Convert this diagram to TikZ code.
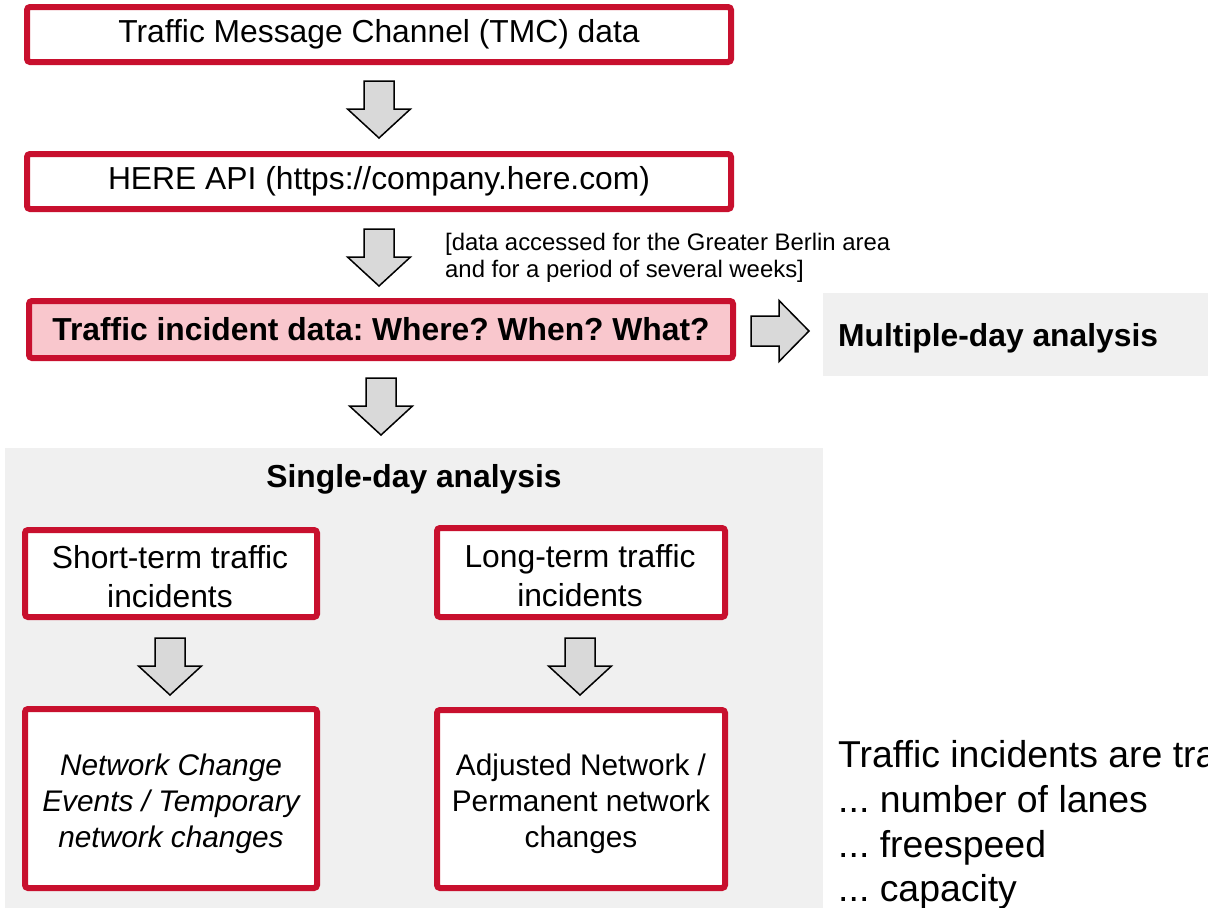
\documentclass[tikz,border=0pt]{standalone}
\usepackage{fontspec}
\setmainfont{Liberation Sans}
\usetikzlibrary{calc}
\definecolor{boxred}{RGB}{200,16,46}
\definecolor{boxpink}{RGB}{249,199,205}
\definecolor{panelgray}{RGB}{240,240,240}
\definecolor{arrowgray}{RGB}{217,217,217}
\frenchspacing

\begin{document}
\begin{tikzpicture}[x=1pt,y=-1pt,
  box/.style={draw=boxred, line width=6pt, rounded corners=3pt, fill=white,
    inner sep=4pt, align=center, text=black},
  bigtext/.style={font=\fontsize{31.8}{39}\selectfont},
  boldtext/.style={font=\fontsize{31.8}{39}\selectfont\bfseries},
  smalltext/.style={font=\fontsize{29.8}{36}\selectfont},
  notetext/.style={font=\fontsize{23.9}{27.5}\selectfont},
  sidetext/.style={font=\fontsize{37.4}{44}\selectfont},
  plain/.style={inner sep=0pt, text=black},
  boxtext/.style={inner sep=0pt, text=black, align=center},
  blockarrow/.style={draw=black, line width=1.5pt, fill=arrowgray, line join=miter},
  pics/downarrow/.style={code={
    \path[blockarrow] (-15,0) -- (15,0) -- (15,28) -- (31.5,28) -- (0,57)
      -- (-31.5,28) -- (-15,28) -- cycle;}},
  pics/rightarrow/.style={code={
    \path[blockarrow] (0,-15) -- (28,-15) -- (28,-30.5) -- (58,0)
      -- (28,30.5) -- (28,15) -- (0,15) -- cycle;}},
]
\useasboundingbox (0,0) rectangle (1208,908);
\clip (0,0) rectangle (1208,908);

% background panels
\fill[panelgray] (5,448) rectangle (823,912);
\fill[panelgray] (823,293) rectangle (1212,376);

% main chain
\node[box,bigtext,minimum width=704pt,minimum height=55pt] (tmc) at (379,34.5)
  {Traffic Message Channel (TMC) data};
\node[box,bigtext,minimum width=704pt,minimum height=55pt] (here) at (379,181.5)
  {HERE API (https://company.here.com)};
\node[box,boldtext,fill=boxpink,minimum width=704pt,minimum height=57pt] (incid) at (381,329.5)
  {Traffic incident data: Where? When? What?};

% note next to the second arrow
\node[plain,notetext,anchor=base west] (note1) at (445,250)
  {[data accessed for the Greater Berlin area};
\node[plain,notetext,anchor=base west] (note2) at (445,277.5)
  {and for a period of several weeks]};

% panel titles
\node[plain,boldtext,anchor=base west] (multi) at (838,346) {Multiple-day analysis};
\node[plain,boldtext,anchor=base] (single) at (414,487) {Single-day analysis};

% single-day boxes (frames first, then their texts)
\node[box,minimum width=292pt,minimum height=87pt] (short) at (171,573.5) {};
\node[box,minimum width=288pt,minimum height=89pt] (long) at (581,572.5) {};
\node[box,minimum width=292pt,minimum height=179pt] (nce) at (171,798.5) {};
\node[box,minimum width=288pt,minimum height=178pt] (adj) at (581,799) {};
\node[boxtext,bigtext] (short-t) at ($(short.center)+(-1,3)$)
  {Short-term traffic\\incidents};
\node[boxtext,bigtext] (long-t) at ($(long.center)+(-1,3)$)
  {Long-term traffic\\incidents};
\node[boxtext,smalltext] (nce-t) at ($(nce.center)+(0,5)$)
  {\itshape Network Change\\\itshape Events / Temporary\\\itshape network changes};
\node[boxtext,smalltext] (adj-t) at ($(adj.center)+(0,5)$)
  {Adjusted Network /\\Permanent network\\changes};

% block arrows between the boxes
\coordinate (a1) at ($(tmc.south)+(0,16)$);
\coordinate (a2) at ($(here.south)+(0,17)$);
\coordinate (a3) at ($(incid.south)+(0,17)$);
\coordinate (a4) at ($(short.south)+(-1,18)$);
\coordinate (a5) at ($(long.south)+(-1,18)$);
\coordinate (ar) at ($(incid.east)+(15,1.5)$);
\pic at (a1) {downarrow};
\pic at (a2) {downarrow};
\pic at (a3) {downarrow};
\pic at (a4) {downarrow};
\pic at (a5) {downarrow};
\pic at (ar) {rightarrow};

% side text
\node[plain,sidetext,anchor=base west] (side1) at (838,767) {Traffic incidents are tra};
\node[plain,sidetext,anchor=base west] (side2) at (838,812) {... number of lanes};
\node[plain,sidetext,anchor=base west] (side3) at (838,857) {... freespeed};
\node[plain,sidetext,anchor=base west] (side4) at (838,901) {... capacity};
\end{tikzpicture}
\end{document}
